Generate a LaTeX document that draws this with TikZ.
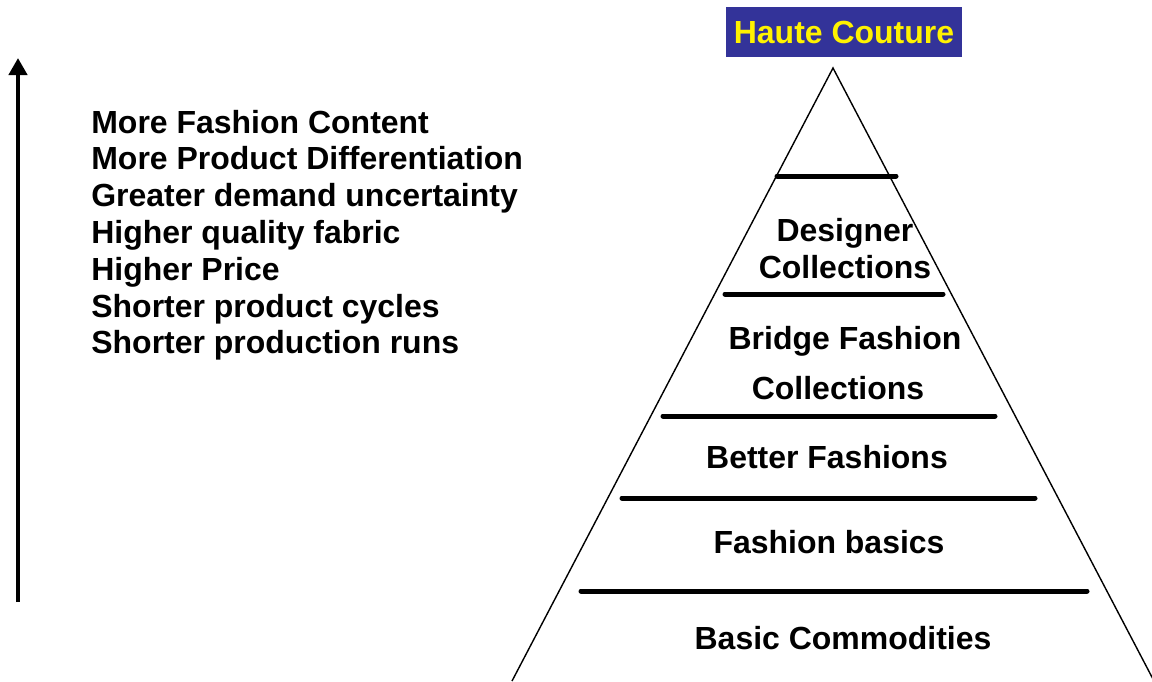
\documentclass[tikz,border=0pt]{standalone}
\usepackage{fontspec}
\setmainfont{Liberation Sans}
\usetikzlibrary{arrows.meta}
\definecolor{hcblue}{HTML}{333399}
\tikzset{tier/.style={line width=0.1cm,line cap=round}}
\begin{document}
\begin{tikzpicture}[x=0.02cm,y=-0.02cm,font=\bfseries\fontsize{18.2}{21}\selectfont]
\useasboundingbox (0,0) rectangle (1152,681);
% axis arrow
\coordinate (lo) at (18,602);
\coordinate (hi) at (18,58);
\draw[line width=0.1cm,-{Triangle[length=0.34cm,width=0.36cm]}] (lo) -- (hi);
\foreach \t [count=\i from 0] in {More Fashion Content,More Product Differentiation,Greater demand uncertainty,Higher quality fabric,Higher Price,Shorter product cycles,Shorter production runs}
    \node[anchor=base west,inner sep=0] (l\i) at (91,133+36.8*\i) {\t};
% pyramid
\draw[line width=0.8pt] (512,681) -- (833,68) -- (1154,681);
\foreach \y/\a/\b in {176/777/896,294/725/943,416/663/995,498/622/1035,591/581/1087}
    \draw[tier] (\a,\y) -- (\b,\y);
\node[fill=hcblue,text=yellow,minimum width=4.74cm,minimum height=1cm,inner sep=0] (haute) at (844,32) {Haute Couture};
\node[align=center] (designer) at (845,249) {Designer\\Collections};
\node (bridge) at (845,341) {Bridge Fashion};
\node (bridgecoll) at (838,388) {Collections};
\node (better) at (827,457) {Better Fashions};
\node (basics) at (829,542) {Fashion basics};
\node (basic) at (843,638) {Basic Commodities};
\end{tikzpicture}
\end{document}
